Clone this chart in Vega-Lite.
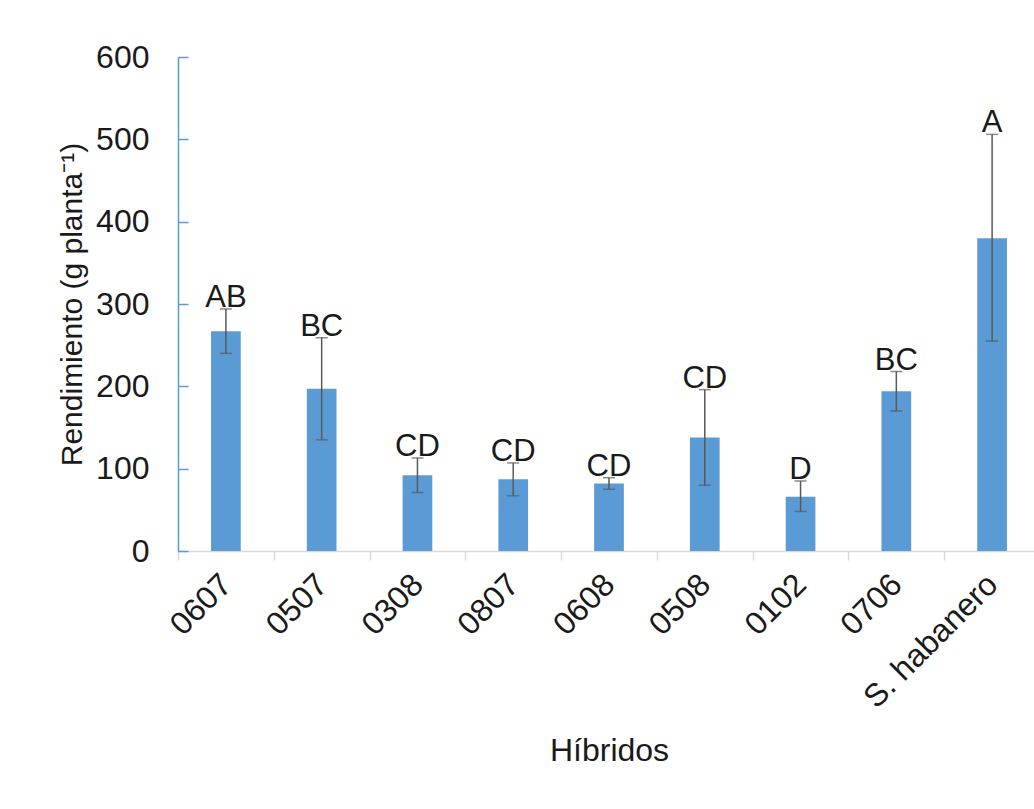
{
  "$schema": "https://vega.github.io/schema/vega-lite/v6.json",
  "width": 856,
  "height": 494,
  "autosize": {"type": "none"},
  "padding": {"left": 178, "top": 57, "right": 0, "bottom": 258},
  "background": "white",
  "config": {
    "view": {"stroke": null},
    "font": "Liberation Sans",
    "axis": {"grid": false, "labelColor": "#1a1a1a", "titleColor": "#1a1a1a", "titleFontWeight": "normal", "labelFont": "Liberation Sans", "titleFont": "Liberation Sans"}
  },
  "data": {
    "values": [
      {"hibrido": "0607", "rendimiento": 267, "inferior": 240, "superior": 294, "grupo": "AB"},
      {"hibrido": "0507", "rendimiento": 197, "inferior": 135, "superior": 259, "grupo": "BC"},
      {"hibrido": "0308", "rendimiento": 92, "inferior": 71, "superior": 113, "grupo": "CD"},
      {"hibrido": "0807", "rendimiento": 87, "inferior": 67, "superior": 107, "grupo": "CD"},
      {"hibrido": "0608", "rendimiento": 82, "inferior": 75, "superior": 89, "grupo": "CD"},
      {"hibrido": "0508", "rendimiento": 138, "inferior": 80, "superior": 196, "grupo": "CD"},
      {"hibrido": "0102", "rendimiento": 66, "inferior": 48, "superior": 85, "grupo": "D"},
      {"hibrido": "0706", "rendimiento": 194, "inferior": 170, "superior": 218, "grupo": "BC"},
      {"hibrido": "S. habanero", "rendimiento": 380, "inferior": 255, "superior": 506, "grupo": "A"}
    ]
  },
  "encoding": {
    "x": {
      "field": "hibrido",
      "type": "nominal",
      "sort": null,
      "scale": {"range": [0, 862], "paddingInner": 0, "paddingOuter": 0},
      "axis": {
        "title": "Híbridos",
        "titleFontSize": 32,
        "titlePadding": 22,
        "labelAngle": -45,
        "labelAlign": "right",
        "labelBaseline": "middle",
        "labelFontSize": 32,
        "labelPadding": 19,
        "tickBand": "extent",
        "tickSize": 9,
        "tickColor": "#d9d9d9",
        "tickWidth": 1.5,
        "domainColor": "#d9d9d9",
        "domainWidth": 1.5
      }
    }
  },
  "layer": [
    {
      "mark": {"type": "bar", "width": {"band": 0.31}, "color": "#5b9bd5"},
      "encoding": {
        "y": {
          "field": "rendimiento",
          "type": "quantitative",
          "scale": {"domain": [0, 600], "nice": false},
          "axis": {
            "title": "Rendimiento (g planta⁻¹)",
            "titleFontSize": 30,
            "titlePadding": 8,
            "values": [0, 100, 200, 300, 400, 500, 600],
            "labelFontSize": 32,
            "labelPadding": 39,
            "tickSize": -10,
            "tickColor": "#5b9bd5",
            "tickWidth": 1.5,
            "domainColor": "#5b9bd5",
            "domainWidth": 1.5
          }
        }
      }
    },
    {
      "mark": {"type": "rule", "color": "#595959", "strokeWidth": 1.5},
      "encoding": {
        "y": {"field": "inferior", "type": "quantitative"},
        "y2": {"field": "superior"}
      }
    },
    {
      "mark": {"type": "tick", "color": "#595959", "thickness": 1.5, "size": 12},
      "encoding": {"y": {"field": "inferior", "type": "quantitative"}}
    },
    {
      "mark": {"type": "tick", "color": "#595959", "thickness": 1.5, "size": 12},
      "encoding": {"y": {"field": "superior", "type": "quantitative"}}
    },
    {
      "mark": {"type": "text", "baseline": "alphabetic", "align": "center", "dy": -2, "fontSize": 31, "color": "#1a1a1a"},
      "encoding": {
        "y": {"field": "superior", "type": "quantitative"},
        "text": {"field": "grupo"}
      }
    }
  ]
}
